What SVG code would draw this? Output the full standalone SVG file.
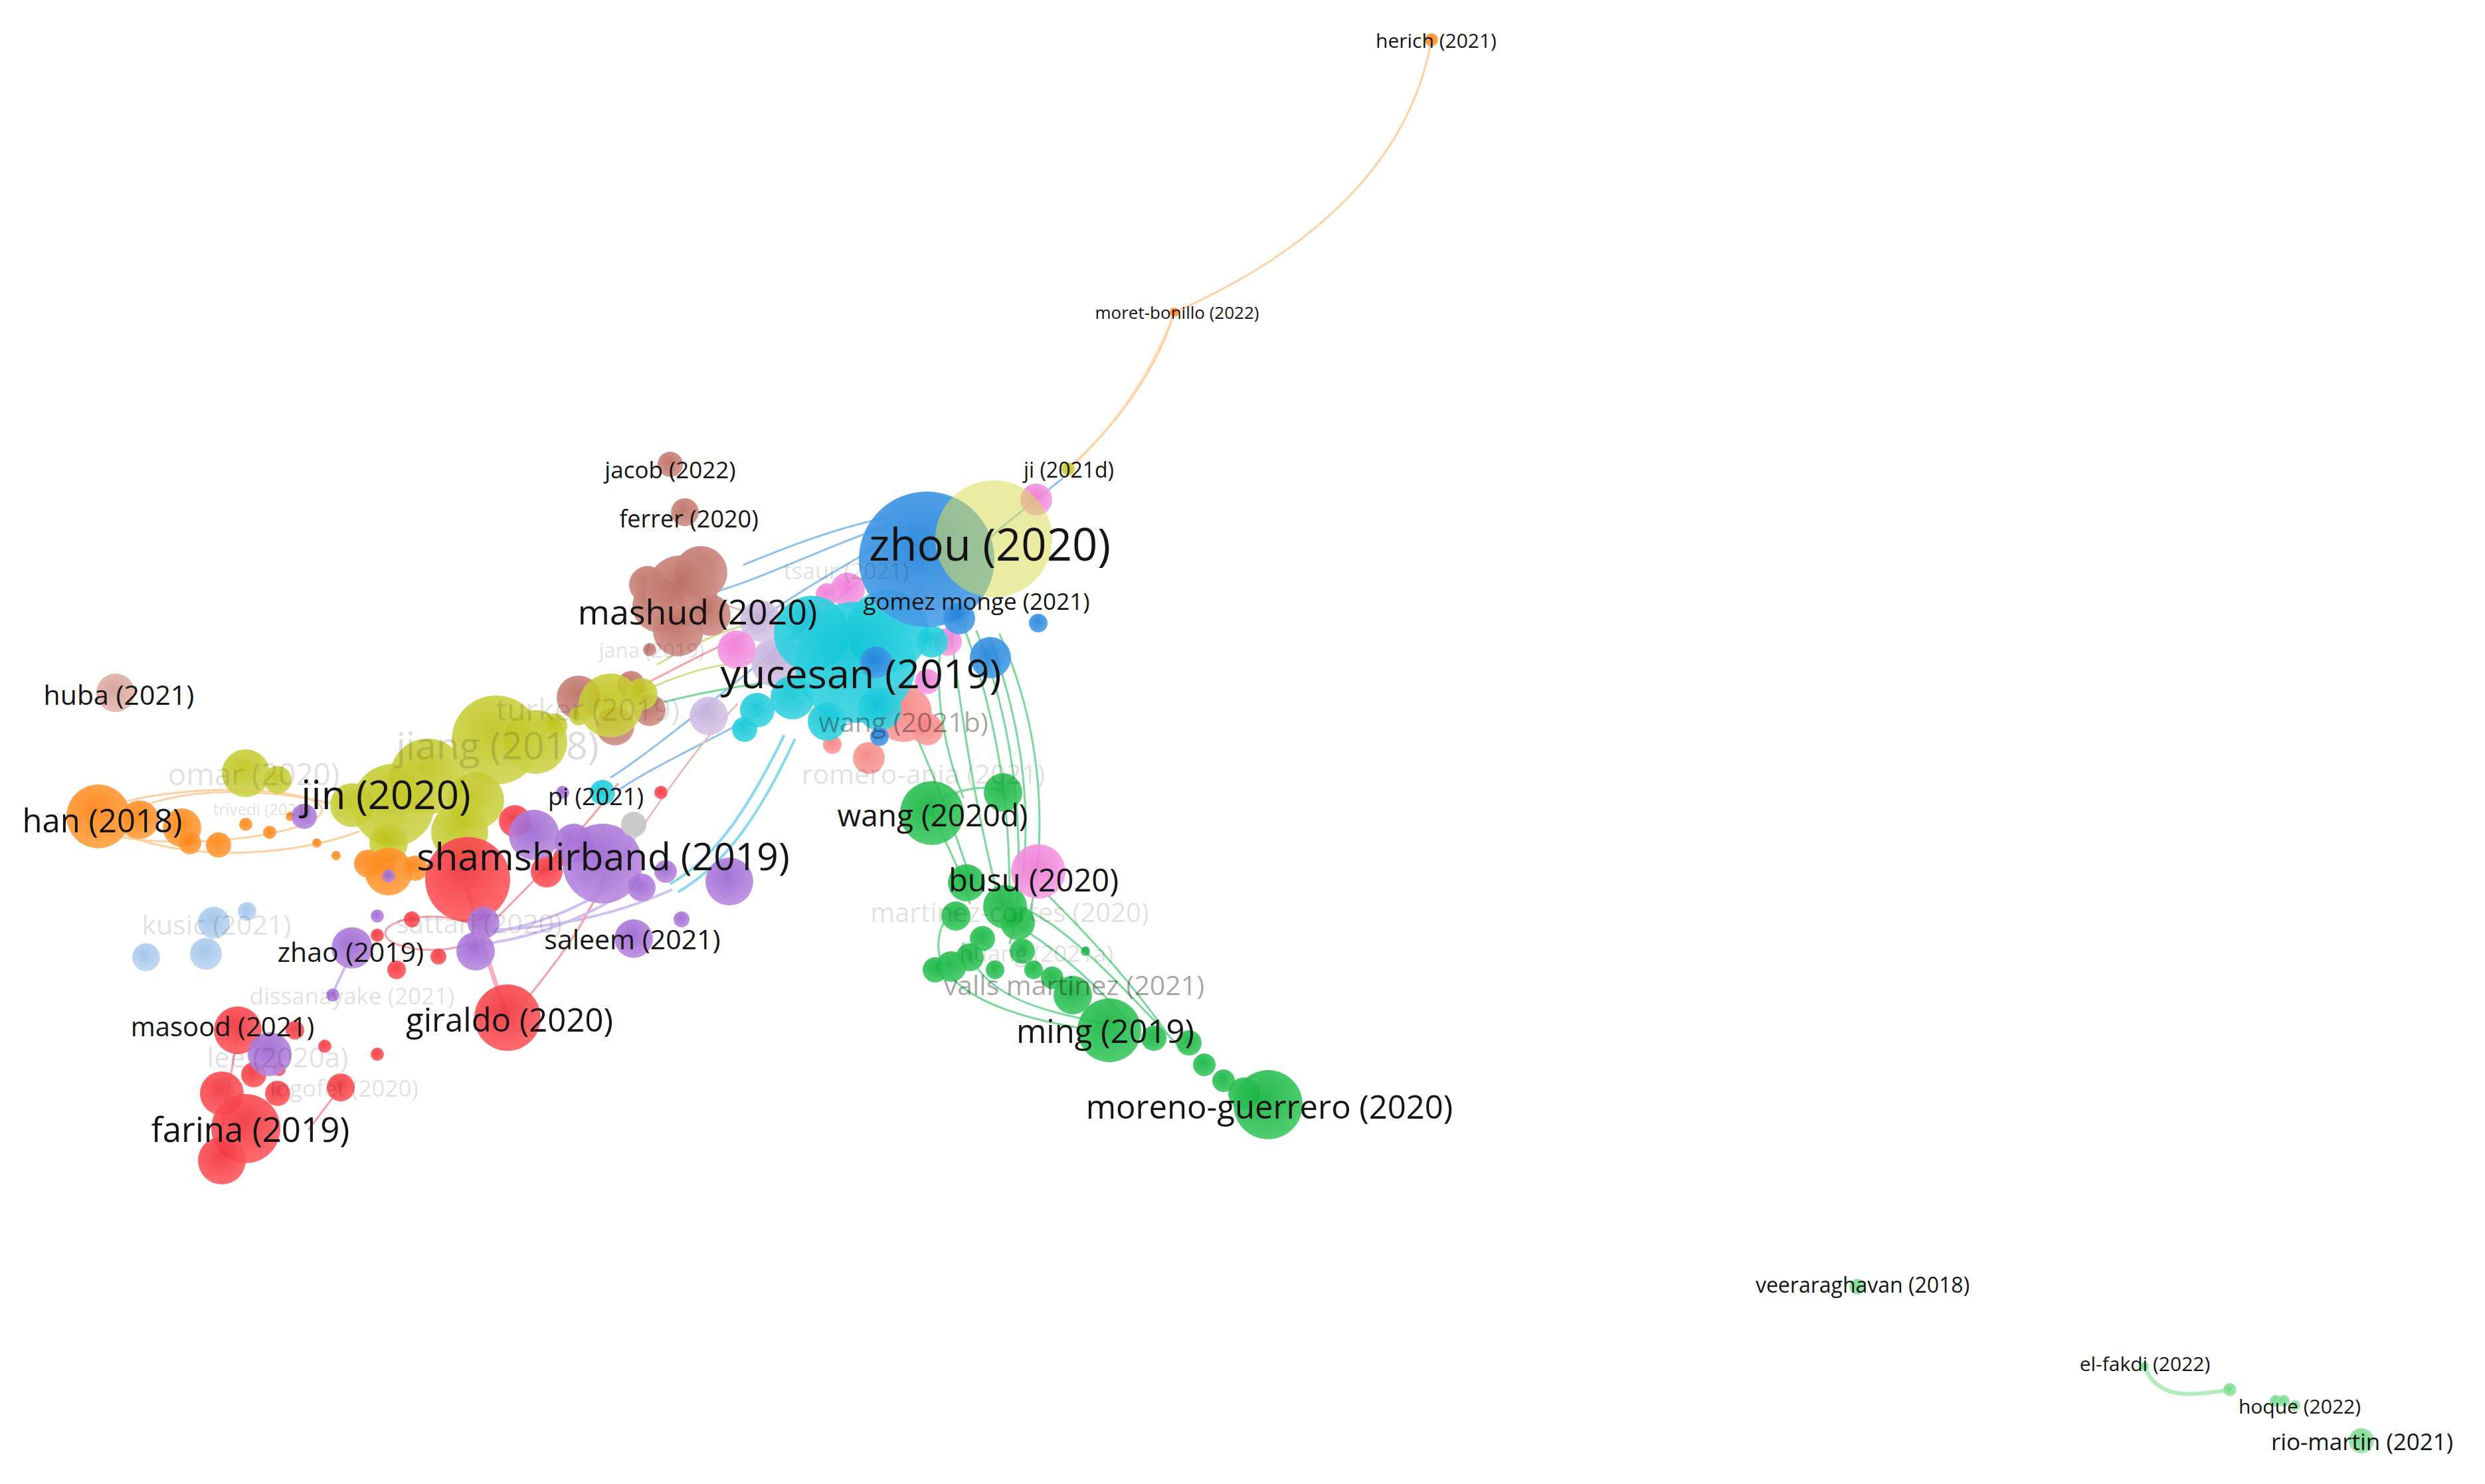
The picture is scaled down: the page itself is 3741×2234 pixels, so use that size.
<svg xmlns="http://www.w3.org/2000/svg" width="3741" height="2234" viewBox="0 0 3741 2234">
<defs>
<radialGradient id="g-red" cx="45%" cy="40%" r="60%"><stop offset="0" stop-color="#f0303a"/><stop offset="1" stop-color="#ff5a5f"/></radialGradient>
<radialGradient id="g-green" cx="45%" cy="40%" r="60%"><stop offset="0" stop-color="#12b23c"/><stop offset="1" stop-color="#3cc862"/></radialGradient>
<radialGradient id="g-blue" cx="45%" cy="40%" r="60%"><stop offset="0" stop-color="#1f80d8"/><stop offset="1" stop-color="#4a9ee8"/></radialGradient>
<radialGradient id="g-olive" cx="45%" cy="40%" r="60%"><stop offset="0" stop-color="#bcc212"/><stop offset="1" stop-color="#cdd24a"/></radialGradient>
<radialGradient id="g-purple" cx="45%" cy="40%" r="60%"><stop offset="0" stop-color="#9a62d0"/><stop offset="1" stop-color="#b88ae0"/></radialGradient>
<radialGradient id="g-cyan" cx="45%" cy="40%" r="60%"><stop offset="0" stop-color="#0cc4d6"/><stop offset="1" stop-color="#3ad4e2"/></radialGradient>
<radialGradient id="g-orange" cx="45%" cy="40%" r="60%"><stop offset="0" stop-color="#ff8010"/><stop offset="1" stop-color="#ffa040"/></radialGradient>
<radialGradient id="g-brown" cx="45%" cy="40%" r="60%"><stop offset="0" stop-color="#bc6e60"/><stop offset="1" stop-color="#d0908a"/></radialGradient>
<radialGradient id="g-pink" cx="45%" cy="40%" r="60%"><stop offset="0" stop-color="#ee76d4"/><stop offset="1" stop-color="#f6a0e4"/></radialGradient>
<radialGradient id="g-lblue" cx="45%" cy="40%" r="60%"><stop offset="0" stop-color="#9cc0e8"/><stop offset="1" stop-color="#bcd6f2"/></radialGradient>
<radialGradient id="g-lpurple" cx="45%" cy="40%" r="60%"><stop offset="0" stop-color="#c0a8d8"/><stop offset="1" stop-color="#d8c8e8"/></radialGradient>
<radialGradient id="g-salmon" cx="45%" cy="40%" r="60%"><stop offset="0" stop-color="#f48080"/><stop offset="1" stop-color="#fa9e9c"/></radialGradient>
<radialGradient id="g-lgreen" cx="45%" cy="40%" r="60%"><stop offset="0" stop-color="#6cd684"/><stop offset="1" stop-color="#9ce6ac"/></radialGradient>
<radialGradient id="g-huba" cx="45%" cy="40%" r="60%"><stop offset="0" stop-color="#d49c94"/><stop offset="1" stop-color="#e4b8b0"/></radialGradient>
<style>
.red{fill:url(#g-red);fill-opacity:.9}
.green{fill:url(#g-green);fill-opacity:.9}
.blue{fill:url(#g-blue);fill-opacity:.9}
.olive{fill:url(#g-olive);fill-opacity:.88}
.purple{fill:url(#g-purple);fill-opacity:.9}
.cyan{fill:url(#g-cyan);fill-opacity:.9}
.orange{fill:url(#g-orange);fill-opacity:.9}
.brown{fill:url(#g-brown);fill-opacity:.92}
.pink{fill:url(#g-pink);fill-opacity:.9}
.lblue{fill:url(#g-lblue);fill-opacity:.9}
.lpurple{fill:url(#g-lpurple);fill-opacity:.9}
.salmon{fill:url(#g-salmon);fill-opacity:.9}
.lgreen{fill:url(#g-lgreen);fill-opacity:.9}
.huba{fill:url(#g-huba);fill-opacity:.9}
.gray{fill:#c4c4c4;fill-opacity:.9}
.yel{fill:#d8dc58;fill-opacity:.55}
.lbl{font-family:"Open Sans","Liberation Sans",sans-serif;fill:#141414;text-anchor:middle;dominant-baseline:central}
.faint{fill-opacity:.15}
.mid{fill-opacity:.38}
.e{fill:none;stroke-linecap:round}
.e-or{stroke:#ffd0a0;stroke-width:3}
.e-cy{stroke:#8ad8f0;stroke-width:4}
.e-bl{stroke:#8ec0f0;stroke-width:3}
.e-gr{stroke:#7ad89a;stroke-width:3}
.e-rd{stroke:#f8a0a8;stroke-width:3}
.e-pk{stroke:#f4b0c8;stroke-width:7}
.e-pu{stroke:#d0c0f0;stroke-width:4}
.e-ol{stroke:#d8dc90;stroke-width:3}
.e-lg{stroke:#b0ecbc;stroke-width:6}
.e-br{stroke:#e8c0b8;stroke-width:3}
</style>
</defs>
<rect width="3741" height="2234" fill="#ffffff"/>
<g id="connectors">
<path class="e e-or" d="M1608,706 C1680,640 1740,560 1768,470 C1950,390 2120,260 2155,60"/>
<path class="e e-or" d="M1600,716 C1660,660 1720,590 1768,470" opacity=".5"/>
<path class="e e-cy" d="M1180,1108 C1130,1210 1080,1290 1010,1330"/>
<path class="e e-cy" d="M1196,1114 C1146,1222 1094,1300 1022,1342"/>
<path class="e e-pu" d="M1010,1340 C920,1380 820,1400 720,1400"/>
<path class="e e-bl" d="M1340,790 C1250,820 1150,870 1080,890"/>
<path class="e e-bl" d="M1350,805 C1260,860 1180,900 1110,960"/>
<path class="e e-bl" d="M1330,780 C1240,800 1170,830 1120,850"/>
<path class="e e-bl" d="M1300,870 C1200,950 1000,1120 920,1170"/>
<path class="e e-bl" d="M1150,1070 C1060,1120 990,1150 930,1190"/>
<path class="e e-bl" d="M1600,720 C1550,760 1510,790 1480,820"/>
<path class="e e-br" d="M1060,900 C1120,920 1180,940 1240,960"/>
<path class="e e-br" d="M880,1380 C960,1250 1050,1120 1110,1060"/>
<path class="e e-ol" d="M960,1045 C1050,1000 1120,990 1200,1000"/>
<path class="e e-gr" d="M980,1062 C1060,1040 1130,1030 1200,1022"/>
<path class="e e-rd" d="M970,1030 C1050,990 1100,960 1150,950"/>
<path class="e e-ol" d="M990,1000 C1060,960 1110,940 1170,930"/>
<ellipse class="e e-or" cx="310" cy="1228" rx="175" ry="38" transform="rotate(-3 310 1228)"/>
<path class="e e-or" d="M160,1242 C250,1296 420,1296 540,1252"/>
<path class="e e-or" d="M210,1215 C300,1180 430,1190 520,1215"/>
<path class="e e-pk" d="M704,1340 C722,1410 742,1470 764,1532"/>
<path class="e e-rd" d="M910,1320 C880,1400 820,1470 780,1520"/>
<path class="e e-rd" d="M930,1180 C870,1260 800,1330 740,1390"/>
<ellipse class="e e-rd" cx="650" cy="1405" rx="70" ry="25"/>
<path class="e e-pu" d="M920,1335 C850,1380 780,1400 700,1410"/>
<path class="e e-pu" d="M930,1350 C860,1392 790,1414 710,1424"/>
<path class="e e-pu" d="M530,1430 C520,1460 505,1480 501,1498"/>
<path class="e e-rd" d="M358,1560 C350,1600 342,1650 334,1700"/>
<path class="e e-rd" d="M513,1637 C495,1660 480,1680 465,1700"/>
<path class="e e-gr" d="M1430,940 C1450,1100 1470,1220 1500,1340"/>
<path class="e e-gr" d="M1450,940 C1500,1080 1520,1200 1520,1350"/>
<path class="e e-gr" d="M1470,950 C1530,1100 1540,1250 1530,1380"/>
<path class="e e-gr" d="M1490,960 C1550,1120 1560,1280 1520,1420"/>
<path class="e e-gr" d="M1505,955 C1570,1100 1580,1260 1545,1400"/>
<path class="e e-gr" d="M1420,950 C1400,1050 1430,1150 1450,1200"/>
<path class="e e-gr" d="M1380,1110 C1420,1200 1440,1260 1460,1320"/>
<path class="e e-gr" d="M1403,1224 C1430,1280 1450,1320 1460,1360"/>
<path class="e e-gr" d="M1420,1390 C1390,1460 1450,1520 1640,1550"/>
<path class="e e-gr" d="M1450,1420 C1480,1500 1560,1520 1660,1540"/>
<path class="e e-gr" d="M1510,1380 C1580,1420 1640,1470 1700,1540"/>
<path class="e e-gr" d="M1520,1360 C1600,1380 1700,1500 1780,1580"/>
<path class="e e-gr" d="M1560,1330 C1620,1390 1690,1460 1760,1560"/>
<path class="e e-gr" d="M1420,1200 C1470,1180 1500,1185 1510,1193"/>
<path class="e e-lg" d="M3228,2057 C3250,2110 3300,2100 3357,2092"/>
</g>
<g id="cluster-brown">
<g id="n-jacob"><circle class="brown" cx="1009" cy="699" r="19"/></g>
<g id="n-ferrer"><circle class="brown" cx="1031" cy="771" r="21"/></g>
<g id="n-mashud">
<circle class="brown" cx="975" cy="880" r="28"/>
<circle class="brown" cx="1055" cy="862" r="40"/>
<circle class="brown" cx="992" cy="912" r="40"/>
<circle class="brown" cx="1026" cy="890" r="54"/>
<circle class="brown" cx="1021" cy="950" r="38"/>
<circle class="brown" cx="1069" cy="926" r="31"/>
</g>
<g id="n-jana"><circle class="brown" cx="978" cy="978" r="10"/></g>
<circle id="n-br1" class="brown" cx="871" cy="1050" r="33"/>
<circle id="n-br2" class="brown" cx="926" cy="1093" r="29"/>
<circle id="n-br3" class="brown" cx="978" cy="1069" r="24"/>
<circle id="n-br4" class="brown" cx="950" cy="1031" r="21"/>
<g id="n-huba"><circle class="huba" cx="174" cy="1043" r="29"/></g>
</g>
<g id="cluster-lpurple">
<circle id="n-lp1" class="lpurple" cx="1067" cy="1078" r="29"/>
<circle id="n-lp2" class="lpurple" cx="1169" cy="997" r="38"/>
<circle id="n-lp3" class="lpurple" cx="1145" cy="935" r="31"/>
<circle id="n-lp4" class="lpurple" cx="1217" cy="930" r="24"/>
</g>
<g id="cluster-olive">
<circle id="n-ol1" class="olive" cx="370" cy="1164" r="36"/>
<circle id="n-ol2" class="olive" cx="418" cy="1174" r="21"/>
<circle id="n-ol3" class="olive" cx="530" cy="1212" r="33"/>
<circle id="n-ol4" class="olive" cx="806" cy="1117" r="48"/>
<g id="n-jiang"><circle class="olive" cx="747" cy="1114" r="67"/></g>
<circle id="n-ol5" class="olive" cx="644" cy="1169" r="57"/>
<g id="n-jin"><circle class="olive" cx="592" cy="1212" r="62"/></g>
<circle id="n-ol6" class="olive" cx="716" cy="1205" r="43"/>
<circle id="n-ol7" class="olive" cx="692" cy="1253" r="43"/>
<circle id="n-ol8" class="olive" cx="585" cy="1269" r="29"/>
<circle id="n-ol9" class="olive" cx="835" cy="1093" r="19"/>
<circle id="n-ol10" class="olive" cx="871" cy="1078" r="14"/>
<g id="n-turker"><circle class="olive" cx="919" cy="1062" r="48"/></g>
<circle id="n-ol11" class="olive" cx="966" cy="1045" r="24"/>
<g id="n-ji"><circle class="olive" cx="1608" cy="706" r="10"/></g>
</g>
<g id="cluster-orange">
<g id="n-han"><circle class="orange" cx="148" cy="1229" r="48"/></g>
<circle id="n-or1" class="orange" cx="210" cy="1234" r="29"/>
<circle id="n-or2" class="orange" cx="274" cy="1246" r="29"/>
<circle id="n-or3" class="orange" cx="329" cy="1272" r="19"/>
<circle id="n-or4" class="orange" cx="286" cy="1269" r="17"/>
<circle id="n-or5" class="orange" cx="370" cy="1241" r="10"/>
<circle id="n-or6" class="orange" cx="406" cy="1253" r="10"/>
<circle id="n-or7" class="orange" cx="437" cy="1229" r="7"/>
<circle id="n-or8" class="orange" cx="477" cy="1269" r="7"/>
<circle id="n-or9" class="orange" cx="506" cy="1288" r="7"/>
<circle id="n-or10" class="orange" cx="554" cy="1300" r="21"/>
<circle id="n-or11" class="orange" cx="585" cy="1312" r="36"/>
<circle id="n-or12" class="orange" cx="625" cy="1307" r="19"/>
<g id="n-herich"><circle class="orange" cx="2155" cy="60" r="10"/></g>
<g id="n-moret-bonillo"><circle class="orange" cx="1768" cy="470" r="7"/></g>
</g>
<g id="cluster-lblue">
<g id="n-kusic"><circle class="lblue" cx="322" cy="1389" r="24"/></g>
<circle id="n-lb1" class="lblue" cx="372" cy="1372" r="14"/>
<circle id="n-lb2" class="lblue" cx="310" cy="1436" r="24"/>
<circle id="n-lb3" class="lblue" cx="220" cy="1441" r="21"/>
</g>
<g id="cluster-red">
<circle id="n-rd1" class="red" cx="775" cy="1236" r="24"/>
<circle id="n-rd2" class="red" cx="704" cy="1324" r="64"/>
<circle id="n-rd3" class="red" cx="823" cy="1312" r="24"/>
<circle id="n-rd4" class="red" cx="847" cy="1290" r="14"/>
<g id="n-giraldo"><circle class="red" cx="764" cy="1532" r="50"/></g>
<g id="n-masood"><circle class="red" cx="358" cy="1551" r="36"/></g>
<circle id="n-rd5" class="red" cx="334" cy="1646" r="33"/>
<g id="n-farina"><circle class="red" cx="370" cy="1699" r="52"/></g>
<circle id="n-rd6" class="red" cx="334" cy="1747" r="36"/>
<circle id="n-rd7" class="red" cx="418" cy="1646" r="19"/>
<circle id="n-rd8" class="red" cx="382" cy="1618" r="19"/>
<g id="n-logofet"><circle class="red" cx="513" cy="1637" r="21"/></g>
<circle id="n-rd9" class="red" cx="597" cy="1460" r="14"/>
<circle id="n-rd10" class="red" cx="568" cy="1408" r="10"/>
<circle id="n-rd11" class="red" cx="620" cy="1384" r="12"/>
<circle id="n-rd12" class="red" cx="444" cy="1551" r="14"/>
<circle id="n-rd13" class="red" cx="489" cy="1575" r="10"/>
<circle id="n-rd14" class="red" cx="568" cy="1587" r="10"/>
<circle id="n-rd15" class="red" cx="995" cy="1193" r="10"/>
<circle id="n-rd16" class="red" cx="420" cy="1610" r="10"/>
<circle id="n-rd17" class="red" cx="660" cy="1440" r="12"/>
</g>
<g id="cluster-purple">
<circle id="n-pu1" class="purple" cx="804" cy="1257" r="38"/>
<circle id="n-pu2" class="purple" cx="864" cy="1269" r="29"/>
<g id="n-shamshirband"><circle class="purple" cx="907" cy="1300" r="60"/></g>
<circle id="n-pu3" class="purple" cx="1098" cy="1327" r="36"/>
<circle id="n-pu4" class="purple" cx="966" cy="1336" r="21"/>
<circle id="n-pu5" class="purple" cx="1002" cy="1312" r="17"/>
<circle id="n-pu6" class="purple" cx="716" cy="1432" r="29"/>
<circle id="n-pu7" class="purple" cx="728" cy="1389" r="24"/>
<g id="n-zhao"><circle class="purple" cx="530" cy="1427" r="31"/></g>
<g id="n-saleem"><circle class="purple" cx="954" cy="1413" r="29"/></g>
<circle id="n-pu8" class="purple" cx="406" cy="1587" r="33"/>
<circle id="n-pu9" class="purple" cx="458" cy="1229" r="19"/>
<circle id="n-pu10" class="purple" cx="847" cy="1193" r="10"/>
<circle id="n-pu11" class="purple" cx="585" cy="1319" r="10"/>
<g id="n-dissanayake"><circle class="purple" cx="501" cy="1498" r="10"/></g>
<circle id="n-pu12" class="purple" cx="568" cy="1379" r="10"/>
<circle id="n-pu13" class="purple" cx="1026" cy="1384" r="12"/>
</g>
<g id="cluster-gray"><circle id="n-gray1" class="gray" cx="954" cy="1241" r="19"/></g>
<g id="cluster-salmon">
<g id="n-wang2021b"><circle class="salmon" cx="1360" cy="1074" r="43"/></g>
<g id="n-romero-ania"><circle class="salmon" cx="1308" cy="1141" r="24"/></g>
<circle id="n-sa1" class="salmon" cx="1253" cy="1121" r="14"/>
<circle id="n-sa2" class="salmon" cx="1396" cy="1098" r="24"/>
</g>
<g id="cluster-pink">
<circle id="n-pk1" class="pink" cx="1109" cy="978" r="29"/>
<g id="n-tsaur"><circle class="pink" cx="1276" cy="888" r="26"/></g>
<circle id="n-pk2" class="pink" cx="1245" cy="895" r="17"/>
<circle id="n-pk3" class="pink" cx="1427" cy="966" r="21"/>
<circle id="n-pk4" class="pink" cx="1396" cy="1026" r="19"/>
<circle id="n-pk5" class="pink" cx="1560" cy="752" r="24"/>
</g>
<g id="cluster-cyan">
<circle id="n-cy1" class="cyan" cx="1222" cy="954" r="57"/>
<circle id="n-cy2" class="cyan" cx="1336" cy="950" r="62"/>
<g id="n-yucesan"><circle class="cyan" cx="1288" cy="997" r="91"/></g>
<circle id="n-cy3" class="cyan" cx="1193" cy="1050" r="33"/>
<circle id="n-cy4" class="cyan" cx="1140" cy="1069" r="26"/>
<circle id="n-cy5" class="cyan" cx="1121" cy="1098" r="19"/>
<circle id="n-cy6" class="cyan" cx="1245" cy="1086" r="29"/>
<circle id="n-cy7" class="cyan" cx="1324" cy="1067" r="33"/>
<circle id="n-cy8" class="cyan" cx="1403" cy="966" r="24"/>
<g id="n-pi"><circle class="cyan" cx="907" cy="1193" r="19"/></g>
</g>
<g id="cluster-blue">
<g id="n-zhou">
<circle class="blue" cx="1395" cy="842" r="102"/>
<circle class="yel" cx="1496" cy="811" r="88"/>
</g>
<g id="n-gomez-monge"><circle class="blue" cx="1444" cy="931" r="24"/></g>
<circle id="n-bl1" class="blue" cx="1491" cy="990" r="31"/>
<circle id="n-bl2" class="blue" cx="1563" cy="938" r="14"/>
<circle id="n-bl3" class="blue" cx="1319" cy="997" r="24"/>
<circle id="n-bl4" class="blue" cx="1324" cy="1109" r="14"/>
</g>
<g id="cluster-green">
<g id="n-wang2020d"><circle class="green" cx="1403" cy="1224" r="48"/></g>
<circle id="n-gr1" class="green" cx="1510" cy="1193" r="29"/>
<circle id="n-gr2" class="green" cx="1455" cy="1329" r="28"/>
<circle id="n-gr3" class="green" cx="1513" cy="1365" r="33"/>
<circle id="n-gr4" class="green" cx="1439" cy="1379" r="22"/>
<g id="n-martinez-cortes"><circle class="green" cx="1532" cy="1389" r="26"/></g>
<circle id="n-gr5" class="green" cx="1479" cy="1413" r="19"/>
<circle id="n-gr6" class="green" cx="1432" cy="1455" r="23"/>
<g id="n-huang"><circle class="green" cx="1460" cy="1441" r="21"/></g>
<circle id="n-gr7" class="green" cx="1498" cy="1460" r="14"/>
<circle id="n-gr8" class="green" cx="1539" cy="1432" r="19"/>
<circle id="n-gr9" class="green" cx="1556" cy="1460" r="14"/>
<circle id="n-gr10" class="green" cx="1584" cy="1472" r="17"/>
<circle id="n-gr11" class="green" cx="1634" cy="1432" r="7"/>
<g id="n-valls-martinez"><circle class="green" cx="1615" cy="1498" r="29"/></g>
<g id="n-ming"><circle class="green" cx="1670" cy="1551" r="48"/></g>
<circle id="n-gr12" class="green" cx="1737" cy="1563" r="19"/>
<circle id="n-gr13" class="green" cx="1790" cy="1570" r="19"/>
<circle id="n-gr14" class="green" cx="1813" cy="1603" r="17"/>
<circle id="n-gr15" class="green" cx="1842" cy="1627" r="17"/>
<circle id="n-gr16" class="green" cx="1873" cy="1646" r="24"/>
<g id="n-moreno-guerrero"><circle class="green" cx="1909" cy="1663" r="52"/></g>
<circle id="n-gr17" class="green" cx="1408" cy="1460" r="19"/>
</g>
<g id="n-busu"><circle class="pink" cx="1563" cy="1312" r="41"/></g>
<g id="cluster-lgreen">
<g id="n-veeraraghavan"><circle class="lgreen" cx="2796" cy="1937" r="12"/></g>
<g id="n-el-fakdi"><circle class="lgreen" cx="3228" cy="2057" r="7"/></g>
<circle id="n-lg1" class="lgreen" cx="3357" cy="2092" r="10"/>
<g id="n-hoque">
<circle class="lgreen" cx="3426" cy="2109" r="9"/>
<circle class="lgreen" cx="3438" cy="2109" r="9"/>
<circle class="lgreen" cx="3455" cy="2116" r="8"/>
</g>
<g id="n-rio-martin"><circle class="lgreen" cx="3555" cy="2169" r="19"/></g>
</g>
<g id="labels">
<text class="lbl faint" x="382" y="1164" font-size="46">omar (2020)</text>
<text class="lbl faint" x="749" y="1121" font-size="57">jiang (2018)</text>
<text class="lbl faint" x="885" y="1067" font-size="46">turker (2019)</text>
<text class="lbl faint" x="394" y="1217" font-size="24">trivedi (2021)</text>
<text class="lbl faint" x="326" y="1391" font-size="41">kusic (2021)</text>
<text class="lbl faint" x="721" y="1389" font-size="41">sattari (2020)</text>
<text class="lbl faint" x="530" y="1498" font-size="35">dissanayake (2021)</text>
<text class="lbl faint" x="418" y="1590" font-size="42">lee (2020a)</text>
<text class="lbl faint" x="518" y="1637" font-size="35">logofet (2020)</text>
<text class="lbl faint" x="981" y="978" font-size="31">jana (2019)</text>
<text class="lbl faint" x="1274" y="859" font-size="34">tsaur (2021)</text>
<text class="lbl mid" x="1360" y="1086" font-size="41">wang (2021b)</text>
<text class="lbl faint" x="1390" y="1164" font-size="41">romero-ania (2021)</text>
<text class="lbl faint" x="1520" y="1372" font-size="40">martinez-cortes (2020)</text>
<text class="lbl faint" x="1560" y="1434" font-size="35">huang (2021a)</text>
<text class="lbl mid" x="1617" y="1482" font-size="41">valls martinez (2021)</text>
<text class="lbl" x="1490" y="818" font-size="67">zhou (2020)</text>
<text class="lbl" x="1296" y="1012" font-size="61">yucesan (2019)</text>
<text class="lbl" x="1050" y="919" font-size="52">mashud (2020)</text>
<text class="lbl" x="908" y="1288" font-size="57">shamshirband (2019)</text>
<text class="lbl" x="581" y="1195" font-size="60">jin (2020)</text>
<text class="lbl" x="154" y="1234" font-size="49">han (2018)</text>
<text class="lbl" x="377" y="1699" font-size="51">farina (2019)</text>
<text class="lbl" x="767" y="1534" font-size="49">giraldo (2020)</text>
<text class="lbl" x="1911" y="1665" font-size="49">moreno-guerrero (2020)</text>
<text class="lbl" x="1664" y="1551" font-size="49">ming (2019)</text>
<text class="lbl" x="1404" y="1226" font-size="46">wang (2020d)</text>
<text class="lbl" x="1556" y="1324" font-size="47">busu (2020)</text>
<text class="lbl" x="528" y="1432" font-size="41">zhao (2019)</text>
<text class="lbl" x="952" y="1413" font-size="41">saleem (2021)</text>
<text class="lbl" x="335" y="1544" font-size="40">masood (2021)</text>
<text class="lbl" x="179" y="1045" font-size="41">huba (2021)</text>
<text class="lbl" x="1009" y="706" font-size="35">jacob (2022)</text>
<text class="lbl" x="1037" y="780" font-size="36">ferrer (2020)</text>
<text class="lbl" x="1470" y="904" font-size="35">gomez monge (2021)</text>
<text class="lbl" x="897" y="1198" font-size="36">pi (2021)</text>
<text class="lbl" x="1609" y="706" font-size="32">ji (2021d)</text>
<text class="lbl" x="1772" y="470" font-size="26">moret-bonillo (2022)</text>
<text class="lbl" x="2162" y="60" font-size="30">herich (2021)</text>
<text class="lbl" x="2804" y="1933" font-size="32">veeraraghavan (2018)</text>
<text class="lbl" x="3229" y="2052" font-size="30">el-fakdi (2022)</text>
<text class="lbl" x="3462" y="2116" font-size="30">hoque (2022)</text>
<text class="lbl" x="3556" y="2169" font-size="35">rio-martin (2021)</text>
</g>
</svg>
